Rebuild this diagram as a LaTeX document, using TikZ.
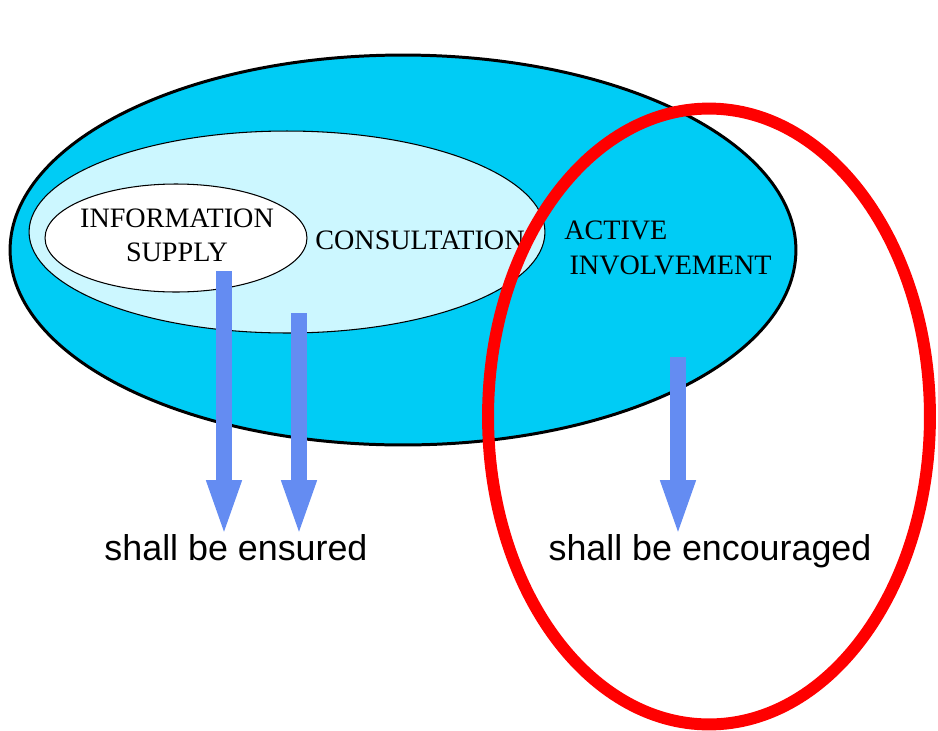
\documentclass[tikz,border=0pt]{standalone}
\usepackage{fontspec}
\setmainfont{Liberation Serif}
\newfontfamily\arialfont{Liberation Sans}
\usetikzlibrary{arrows.meta}

\definecolor{outercyan}{RGB}{0,204,245}
\definecolor{paleCyan}{RGB}{204,247,255}
\definecolor{arrowblue}{RGB}{100,140,242}
\definecolor{ringred}{RGB}{255,0,0}

\tikzset{
	caps/.style={font=\fontsize{16}{19.5}\selectfont, inner sep=0pt},
	verdict/.style={font=\arialfont\fontsize{20.4}{24}\selectfont, inner sep=0pt, anchor=base},
	fatarrow/.style={arrowblue, line width=9pt, shorten >=-2.5pt, -{Triangle[width=17.6pt, length=33pt]}}
}

\begin{document}
\begin{tikzpicture}[x=0.02cm, y=-0.02cm]
			%%%%% START %%%%%
			\useasboundingbox (0, 0) rectangle (938, 731);
			
			\draw[line width=1.7pt, fill=outercyan] (403, 250) ellipse (7.86cm and 3.9cm);
			\draw[line width=0.6pt, fill=paleCyan] (287, 232) ellipse (5.16cm and 2.02cm);
			\draw[line width=0.6pt, fill=white] (176, 238) ellipse (2.62cm and 1.08cm);
			
			\node[caps, align=center] (info) at (177, 235) {INFORMATION\\SUPPLY};
			\node[caps] (consult) at (420, 240) {CONSULTATION};
			\node[caps, align=left, anchor=west] (active) at (564, 248) {ACTIVE\\\hspace{3pt}INVOLVEMENT};
			
			\node[verdict] (ensured) at (236, 560) {shall be ensured};
			\node[verdict] (encouraged) at (710, 560) {shall be encouraged};
			
			\coordinate (infoTail) at (224, 271);
			\coordinate (consultTail) at (299, 313);
			\coordinate (activeTail) at (678, 357);
			
			\draw[fatarrow] (infoTail) -- (infoTail |- ensured.north);
			\draw[fatarrow] (consultTail) -- (consultTail |- ensured.north);
			\draw[fatarrow] (activeTail) -- (activeTail |- encouraged.north);
			
			\draw[line width=6.8pt, ringred] (709, 416.5) ellipse (4.42cm and 6.16cm);
			%%%%% END %%%%%
\end{tikzpicture}
\end{document}
